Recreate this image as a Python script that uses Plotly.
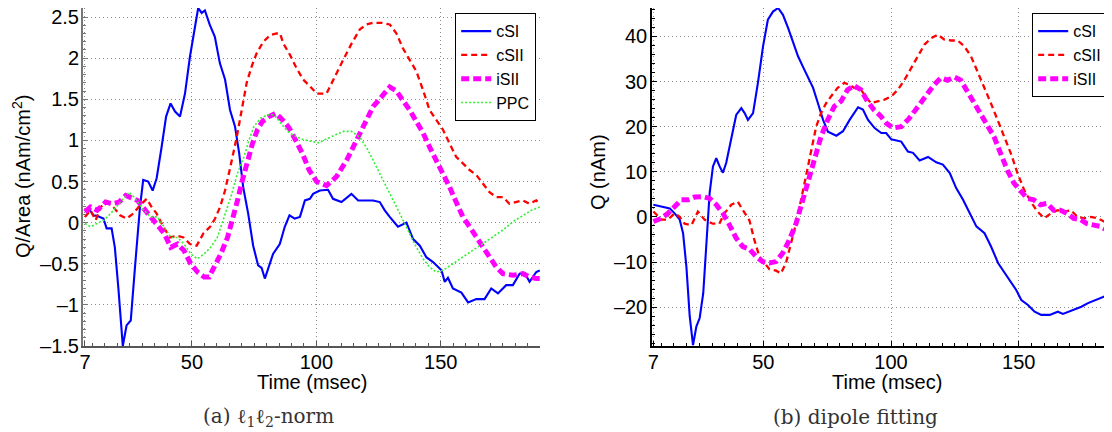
import plotly.graph_objects as go

# ---------------- data ----------------
# Panel (a): l1l2-norm, Q/Area (nAm/cm^2) vs Time (msec)
cSI_a = [(7,0.14),(9,0.15),(10.4,0.09),(12,0.08),(14.4,0.05),(15.7,-0.07),(17.7,-0.07),(19,-0.30),
         (20.4,-0.79),(22.2,-1.5),(23.7,-1.25),(25.4,-1.19),(27.1,-0.54),(29.1,0.19),(30.4,0.52),
         (32.4,0.50),(34.2,0.39),(35.8,0.54),(37.8,0.92),(39.6,1.29),(41.4,1.45),(43.2,1.35),
         (45.2,1.29),(47.2,1.57),(49.2,2.02),(51.2,2.39),(52.5,2.61),(53.9,2.55),(55.2,2.58),
         (57.1,2.41),(59.2,2.26),(61.2,1.94),(63.3,1.74),(65.3,1.37),(67.3,1.17),(69,0.84),
         (70.6,0.43),(72.6,0.11),(74.6,-0.28),(76.6,-0.52),(78,-0.55),(79.3,-0.68),(80.6,-0.56),
         (82.6,-0.38),(85.3,-0.26),(87.3,-0.05),(89.2,0.09),(91.3,0.05),(93.4,0.07),(95.4,0.27),
         (97.4,0.29),(98.7,0.35),(101.4,0.39),(104.7,0.40),(106.7,0.29),(110.1,0.25),(114.1,0.35),
         (116.8,0.27),(120.1,0.27),(122.8,0.27),(125.5,0.25),(127.5,0.15),(129.5,0.07),(132.8,-0.05),
         (136.2,0.0),(138.9,-0.20),(141.6,-0.28),(144.2,-0.42),(146.9,-0.48),(150.3,-0.58),
         (151.6,-0.72),(152.9,-0.67),(154.9,-0.80),(158.3,-0.85),(161,-0.97),(164.3,-0.93),
         (167.6,-0.93),(170.3,-0.80),(173,-0.86),(176.3,-0.76),(179,-0.76),(181.7,-0.62),
         (183.7,-0.61),(185.7,-0.72),(188.4,-0.60),(189.8,-0.58)]

cSII_a = [(7,0.07),(9.2,0.15),(11.3,0.03),(13.3,0.19),(15.7,0.25),(18.4,0.19),(21.1,0.09),(23.7,0.05),
          (26.4,0.11),(29.1,0.21),(31.8,0.29),(33.8,0.19),(35.8,0.11),(38.5,-0.05),(41.2,-0.18),
          (43.9,-0.16),(46.6,-0.18),(49.2,-0.26),(51.9,-0.28),(54.6,-0.13),(57.3,-0.05),(59.3,0.05),
          (61.3,0.19),(63.3,0.39),(65.3,0.66),(68,1.04),(70,1.37),(72,1.70),(74,1.90),(76,2.06),
          (78.7,2.20),(81.4,2.28),(84,2.30),(85.4,2.30),(86.7,2.18),(89.4,2.04),(92,1.88),(94.7,1.74),
          (97.4,1.66),(100.1,1.57),(104.1,1.57),(106.8,1.74),(110.8,1.98),(114.2,2.18),(117.5,2.35),
          (120.2,2.41),(122.8,2.43),(126.2,2.43),(129.5,2.41),(132.2,2.30),(134.8,2.12),(137.5,1.98),
          (140.2,1.84),(142.9,1.61),(145.5,1.37),(148.2,1.25),(150.9,1.13),(153.6,0.96),(156.2,0.80),
          (158.9,0.72),(161.6,0.64),(164.3,0.58),(166.9,0.48),(169.6,0.37),(172.3,0.31),(175,0.31),
          (177.6,0.23),(180.3,0.25),(183,0.27),(185.7,0.23),(188.4,0.27),(189.8,0.23)]

iSII_a = [(7,0.13),(9.2,0.19),(11.9,0.15),(15.3,0.25),(18,0.23),(20.7,0.25),(23.4,0.33),(25.4,0.31),
          (28.1,0.27),(30.7,0.17),(33.4,0.07),(36.1,-0.01),(38.8,-0.13),(41.5,-0.30),(44.2,-0.26),
          (46.8,-0.34),(49.5,-0.50),(52.2,-0.60),(54.9,-0.66),(56.9,-0.66),(58.9,-0.54),(61.6,-0.38),
          (64.3,-0.18),(66.3,0.03),(68.3,0.27),(70.3,0.52),(72.3,0.76),(74.3,0.96),(76.3,1.13),
          (78.3,1.23),(81,1.29),(83.7,1.33),(86.4,1.25),(89.1,1.15),(91.7,1.00),(94.4,0.84),
          (97.1,0.64),(100.1,0.50),(104.1,0.45),(108.1,0.56),(112.2,0.76),(116.2,1.00),(119.5,1.21),
          (122.8,1.41),(126.2,1.53),(129.5,1.65),(132.2,1.60),(134.8,1.49),(137.5,1.37),(140.2,1.23),
          (142.9,1.09),(145.5,0.92),(148.2,0.76),(150.9,0.60),(153.6,0.43),(156.2,0.25),(158.9,0.07),
          (161.6,-0.05),(164.3,-0.18),(166.9,-0.30),(169.6,-0.42),(172.3,-0.54),(175,-0.62),
          (179,-0.64),(183,-0.62),(185.7,-0.66),(188.4,-0.68),(189.8,-0.68)]

PPC_a = [(7,-0.01),(9.2,-0.05),(11.9,-0.01),(14.6,0.03),(17.3,0.11),(20,0.21),(22.7,0.31),(24.7,0.37),
         (26.7,0.31),(28.7,0.23),(30.7,0.15),(33.4,0.07),(36.1,0.07),(38.8,-0.05),(41.5,-0.18),
         (44.2,-0.18),(46.8,-0.26),(49.5,-0.38),(52.2,-0.44),(54.9,-0.38),(57.5,-0.30),(60.2,-0.18),
         (62.9,0.07),(65.6,0.31),(68.3,0.60),(70.9,0.80),(72.9,1.00),(74.9,1.17),(77.6,1.27),
         (80.3,1.31),(83,1.31),(85.7,1.21),(88.4,1.11),(91,1.06),(93.7,1.02),(97.7,0.99),(101,0.97),
         (102.8,1.00),(106.8,1.06),(110.8,1.11),(114.1,1.11),(117.5,1.04),(120.8,0.88),(124.2,0.68),
         (127.5,0.48),(130.9,0.27),(134.2,0.07),(137.5,-0.13),(140.2,-0.30),(142.9,-0.44),
         (145.5,-0.54),(148.2,-0.60),(150.9,-0.58),(154.9,-0.50),(158.9,-0.42),(163,-0.34),
         (167,-0.26),(171,-0.18),(175,-0.09),(179,0.01),(183,0.09),(186.4,0.15),(189.8,0.19)]

# Panel (b): dipole fitting, Q (nAm) vs Time (msec)
cSI_b = [(7,2.7),(10.1,2.3),(13.4,1.9),(15.3,0.8),(17.3,-0.6),(18.6,-3.6),(19.9,-11),(21.2,-22),
         (22.5,-28.4),(23.8,-24.3),(25.1,-22.4),(26.5,-16.9),(27.7,-5.1),(29,5.3),(30.3,11.2),
         (31.6,13.0),(32.9,11.2),(34.2,9.8),(35.5,12),(37.5,17.8),(39.4,22.6),(41.4,24.1),(42.7,23),
         (44,21.5),(46,23),(47.9,29.7),(49.9,37.8),(51.8,43.7),(53.8,45.5),(55.8,46.3),(57.7,44.8),
         (59.7,41.9),(61.6,38.9),(63.6,35.6),(65.5,33.3),(67.5,31.1),(69.5,28.6),(71.4,25.2),
         (73.4,21.5),(75.3,18.9),(78.6,18.0),(81.2,19),(83.8,21.5),(87.1,24.3),(89,23.8),(91,21.5),
         (93.6,19.7),(96.2,18.6),(98.1,18.6),(100.1,17.2),(104,16.7),(106.6,14.5),(108.6,14.2),
         (111.2,12.5),(114.5,13.3),(117.7,12.1),(120.3,11.6),(123,9.7),(125.5,6.4),(128.2,3.8),
         (130.8,0.8),(133.4,-2.1),(136.6,-3.6),(139.2,-6.6),(141.9,-10.2),(144.5,-12.5),(147.1,-14.7),
         (149,-16.2),(151,-18.4),(153.6,-19.5),(156.2,-21.0),(158.8,-21.7),(162.1,-21.7),(165.3,-21.0),
         (167.3,-21.5),(171.3,-20.6),(174.5,-19.9),(177.1,-19.1),(180.4,-18.4),(183.6,-17.6),
         (186.5,-17.4)]

cSII_b = [(7,1.2),(10.1,-0.6),(12.7,-0.6),(15.3,0.8),(17.3,0),(19.2,-1.5),(21.9,-1.8),(24.4,1.2),
          (27,-0.6),(30.2,-1.5),(32.8,-1.5),(34.8,0.8),(37.5,2.7),(40,3.4),(42,1.5),(44.6,-0.8),
          (46.5,-5.1),(48.5,-8.8),(50.5,-10.2),(52.4,-11.6),(55,-11.9),(56.9,-12.5),(58.9,-10.2),
          (60.9,-5.8),(62.8,-1.5),(64.8,3.8),(66.7,9.0),(68.7,14.9),(70.7,20.0),(72.6,23.0),
          (74.6,25.2),(76.5,26.7),(79.1,28.6),(81.7,29.7),(83.7,29.3),(85.6,28.6),(88.2,28.2),
          (90.1,26.7),(92.1,25.2),(94.7,25.6),(97.5,26.0),(100.1,26.7),(102.7,28.2),(105.3,30.4),
          (107.9,33),(110.5,35.6),(113.1,38.2),(115.7,39.6),(118.3,40.4),(120.9,39.3),(123.5,39.1),
          (126.1,39.1),(128.7,37.8),(131.3,35.6),(133.9,32.2),(136.5,28.9),(139.1,25.2),(141.7,21.5),
          (144.3,17.8),(146.9,14.1),(149.5,9.7),(152.1,6.0),(154.7,3.4),(157.3,1.2),(160,-0.3),
          (162.6,0.8),(165.2,1.5),(167.8,1.2),(170.4,1.5),(173,0),(175.6,-0.3),(178.2,0),(180.8,-0.3),
          (183.4,-1.0),(186.5,-2.6)]

iSII_b = [(7,-1.0),(10.1,-0.3),(12.7,0.8),(15.3,2.3),(17.9,3.8),(20.5,3.8),(23.1,4.4),(26.4,4.5),
          (29,4.1),(31.6,2.7),(34.2,0.8),(36.8,-1.8),(39.4,-4.7),(42,-6.6),(44.6,-7.1),(47.2,-8.8),
          (49.8,-9.9),(52.4,-10.2),(55,-9.9),(57.6,-8.0),(60.2,-5.1),(62.8,-1.5),(64.8,2.3),(66.7,6.7),
          (68.7,10.4),(70.7,14.1),(72.6,17.8),(75.2,21.5),(77.8,24.5),(80.4,25.6),(83,28.2),(85.6,29.1),
          (88.2,28.2),(90.8,25.6),(93.4,23.7),(96,22.3),(98.1,20.8),(100.8,19.7),(104,20.0),(107.2,21.9),
          (110.5,24.5),(113.7,27.1),(116.9,29.3),(119.5,30.8),(122.1,30.3),(124.7,31.0),(127.3,30.3),
          (129.9,27.8),(132.5,25.2),(135.1,22.6),(137.7,20.4),(140.3,17.8),(142.9,14.1),(145.5,10.4),
          (148.1,7.5),(150.7,5.6),(153.3,4.1),(155.9,3.8),(158.5,2.7),(161.1,3.0),(163.7,1.5),
          (166.3,1.5),(168.9,0.8),(171.5,-0.3),(174.1,-0.6),(176.7,-1.5),(179.3,-1.8),(181.9,-2.1),
          (184.6,-2.9),(186.5,-3.2)]

x_tickvals = [7, 50, 100, 150]
y_tickvals_a = [-1.5, -1, -0.5, 0, 0.5, 1, 1.5, 2, 2.5]
y_ticktext_a = ["\u20131.5", "\u20131", "\u20130.5", "0", "0.5", "1", "1.5", "2", "2.5"]
y_tickvals_b = [-20, -10, 0, 10, 20, 30, 40]
y_ticktext_b = ["\u201320", "\u201310", "0", "10", "20", "30", "40"]

# ---------------- figure ----------------
# The page body has an 8px margin, so the figure is drawn 8px in from the top-left.
OX, OY = 8, 8
W, H = 1112 - OX, 432 - OY
FONT = "Liberation Sans"


def px(x):
    return (x - OX) / W


def py(y):
    return 1 - (y - OY) / H


def xs(p):
    return [a for a, _ in p]


def ys(p):
    return [b for _, b in p]


styles = {
    "cSI": dict(color="#0000ff", width=2.1),
    "cSII": dict(color="#ff0000", width=2.3, dash="6px,4px"),
    "iSII": dict(color="#ff00ff", width=5, dash="8px,4px"),
    "PPC": dict(color="#33ee33", width=1.6, dash="2px,2px"),
}

fig = go.Figure()
for name, pts in [("cSI", cSI_a), ("cSII", cSII_a), ("iSII", iSII_a), ("PPC", PPC_a)]:
    fig.add_trace(go.Scatter(x=xs(pts), y=ys(pts), mode="lines", name=name,
                             line=styles[name], xaxis="x", yaxis="y", legend="legend"))
for name, pts in [("cSI", cSI_b), ("cSII", cSII_b), ("iSII", iSII_b)]:
    fig.add_trace(go.Scatter(x=xs(pts), y=ys(pts), mode="lines", name=name,
                             line=styles[name], xaxis="x2", yaxis="y2", legend="legend2"))

ydom = [py(346), py(8)]
grid = dict(showgrid=True, gridcolor="#8c8c8c", griddash="1px,3px", gridwidth=1)
tickfont = dict(family=FONT, size=20, color="#000")

common_x = dict(tickvals=x_tickvals, ticks="inside", ticklen=5, zeroline=False,
                tickfont=tickfont, showline=True, ticklabelstandoff=-3,
                ticklabeloverflow="allow",
                minor=dict(ticks="inside", ticklen=3, dtick=5, tick0=0), **grid)

fig.update_layout(
    width=W, height=H,
    margin=dict(l=0, r=0, t=0, b=0, autoexpand=False),
    paper_bgcolor="white", plot_bgcolor="white",
    font=dict(family=FONT, size=20, color="#000"),
    xaxis=dict(domain=[px(83), px(540)], range=[6.2, 189.9], anchor="y",
               linecolor="#555", linewidth=2, tickcolor="#555",
               **common_x),
    yaxis=dict(domain=ydom, range=[-1.5, 2.61], anchor="x",
               tickvals=y_tickvals_a, ticktext=y_ticktext_a,
               ticks="inside", ticklen=5, zeroline=False, showline=True,
               linecolor="#777", linewidth=2, tickcolor="#777",
               tickfont=tickfont, ticklabelstandoff=-2, ticklabeloverflow="allow",
               minor=dict(ticks="inside", ticklen=3, dtick=0.1, tick0=0), **grid),
    xaxis2=dict(domain=[px(652), 1.0], range=[6.44, 186.5], anchor="y2",
                linecolor="#000", linewidth=1.5, tickcolor="#000",
                **common_x),
    yaxis2=dict(domain=ydom, range=[-28.6, 46.3], anchor="x2",
                tickvals=y_tickvals_b, ticktext=y_ticktext_b,
                ticks="inside", ticklen=5, zeroline=False, showline=True,
                linecolor="#000", linewidth=1.5, tickcolor="#000",
                tickfont=tickfont, ticklabelstandoff=-1, ticklabeloverflow="allow",
                minor=dict(ticks="inside", ticklen=3, dtick=2, tick0=0), **grid),
    legend=dict(x=px(536), xanchor="right", y=py(13), yanchor="top",
                bgcolor="white", bordercolor="#000", borderwidth=1.2,
                font=dict(family=FONT, size=16, color="#000"), tracegroupgap=0),
    legend2=dict(x=px(1032), xanchor="left", y=py(13), yanchor="top",
                 bgcolor="white", bordercolor="#000", borderwidth=1.2,
                 font=dict(family=FONT, size=16, color="#000"), tracegroupgap=0),
    showlegend=True,
)

ann_font = dict(family=FONT, size=20, color="#000")
cap_font = dict(family="DejaVu Serif", size=20, color="#333")
annotations = [
    dict(text="Time (msec)", x=px(312), y=py(382), xref="paper", yref="paper",
         showarrow=False, font=ann_font, xanchor="center", yanchor="middle"),
    dict(text="Time (msec)", x=px(887), y=py(382), xref="paper", yref="paper",
         showarrow=False, font=ann_font, xanchor="center", yanchor="middle"),
    dict(text="Q/Area (nAm/cm<sup>2</sup>)", x=px(21), y=py(177), xref="paper", yref="paper",
         showarrow=False, font=ann_font, textangle=-90, xanchor="center", yanchor="middle"),
    dict(text="Q (nAm)", x=px(598), y=py(172), xref="paper", yref="paper",
         showarrow=False, font=ann_font, textangle=-90, xanchor="center", yanchor="middle"),
    dict(text="(a) \u2113<sub>1</sub>\u2113<sub>2</sub>-norm", x=px(268), y=py(417),
         xref="paper", yref="paper", showarrow=False, font=cap_font,
         xanchor="center", yanchor="middle"),
    dict(text="(b) dipole fitting", x=px(855), y=py(417),
         xref="paper", yref="paper", showarrow=False, font=cap_font,
         xanchor="center", yanchor="middle"),
]
fig.update_layout(annotations=annotations)

fig.write_html("out.html")
